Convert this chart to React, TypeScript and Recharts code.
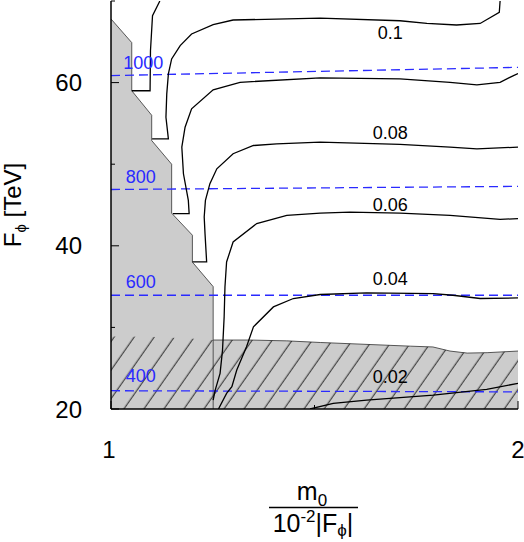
import { ComposedChart, Line, Area, XAxis, YAxis, ReferenceDot } from "recharts";

const W = 524;
const H = 542;
const FONT = "'Liberation Sans', Arial, sans-serif";
const BLUE = "#2a2aff";

// axis ticks
const xTicks = [1, 1.5, 2];
const yTicks = [20, 30, 40, 50, 60, 70];

// excluded region on the left (grey staircase)
const excludedX = [1.0, 1.051, 1.051, 1.1, 1.1, 1.149, 1.149, 1.2, 1.2, 1.251, 1.251];
const excludedY = [67.8, 64.9, 59.0, 56.0, 52.9, 50.0, 44.0, 41.3, 38.0, 35.0, 20];

// hatched band at the bottom (upper edge)
const hatchX = [1.0, 1.096, 1.194, 1.251, 1.342, 1.432, 1.514, 1.661, 1.735, 1.791, 1.833, 1.875, 1.924, 2.0];
const hatchY = [28.9, 28.85, 28.65, 28.45, 28.45, 28.35, 28.15, 27.85, 27.7, 27.6, 27.1, 26.85, 26.9, 27.1];

// black contours
const contourA_X = [1.051, 1.096, 1.097, 1.102, 1.12];
const contourA_Y = [59.0, 59.0, 63.9, 68.2, 70];

const contourB_X = [1.101, 1.141, 1.135, 1.137, 1.141, 1.149, 1.17, 1.198, 1.251, 1.3, 1.514, 1.71, 1.776, 1.849, 1.907, 1.954, 1.956];
const contourB_Y = [53.1, 53.1, 55.76, 58.62, 61.06, 62.9, 64.53, 65.96, 67.1, 67.67, 67.91, 67.58, 67.25, 67.06, 67.25, 68.6, 70];

const contourC_X = [1.152, 1.192, 1.19, 1.178, 1.174, 1.182, 1.198, 1.251, 1.317, 1.514, 1.71, 1.833, 1.899, 1.956, 1.989, 2.0];
const contourC_Y = [43.94, 43.94, 45.57, 48.83, 52.09, 54.53, 56.78, 59.11, 60.04, 60.58, 60.45, 60.04, 59.72, 60.04, 60.86, 61.1];

const contourD_X = [1.2, 1.235, 1.231, 1.229, 1.232, 1.243, 1.26, 1.3, 1.35, 1.407, 1.514, 1.71, 1.833, 1.899, 2.0];
const contourD_Y = [38.02, 38.02, 41.49, 43.52, 45.57, 47.61, 49.44, 51.28, 52.29, 52.5, 52.7, 52.42, 52.09, 51.89, 52.09];

const contourE_X = [1.251, 1.256, 1.268, 1.274, 1.278, 1.28, 1.284, 1.3, 1.358, 1.432, 1.514, 1.587, 1.71, 1.833, 1.956, 2.0];
const contourE_Y = [21.1, 22.32, 24.37, 27.22, 31.29, 34.96, 38.02, 40.47, 42.72, 43.73, 44.01, 44.13, 44.01, 43.73, 43.24, 43.33];

const contourF_X = [1.264, 1.284, 1.297, 1.309, 1.333, 1.35, 1.399, 1.448, 1.514, 1.628, 1.792, 1.84, 1.907, 2.0];
const contourF_Y = [20, 21.92, 22.73, 24.77, 27.62, 30.07, 32.51, 33.54, 34.03, 34.23, 34.15, 33.94, 33.54, 33.61];

const contourG_X = [1.489, 1.546, 1.628, 1.792, 1.923, 2.0];
const contourG_Y = [20, 20.7, 21.1, 21.71, 22.41, 23.14];

// blue dashed lines
const blueX = [1, 2];
const blue1000 = [60.86, 61.87];
const blue800 = [46.9, 47.28];
const blue600 = [33.94, 33.94];
const blue400 = [22.24, 22.1];

const blueNames = ["1000", "800", "600", "400"];
const blueLabelX = [1.079, 1.073, 1.073, 1.073];
const blueLabelY = [62.48, 48.42, 35.57, 24.1];

const contourNames = ["0.1", "0.08", "0.06", "0.04", "0.02"];
const contourLabelX = 1.686;
const contourLabelY = [66.18, 53.92, 45.08, 35.93, 23.95];

const pts = (xs: number[], ys: number[]) => xs.map((x, i) => ({ x, y: ys[i] }));

const contours = [
  pts(contourA_X, contourA_Y),
  pts(contourB_X, contourB_Y),
  pts(contourC_X, contourC_Y),
  pts(contourD_X, contourD_Y),
  pts(contourE_X, contourE_Y),
  pts(contourF_X, contourF_Y),
  pts(contourG_X, contourG_Y),
];
const blues = [blue1000, blue800, blue600, blue400].map((ys) => pts(blueX, ys));

const LeftTick = (p: any) => {
  const v = p.payload.value;
  const major = v % 20 === 0;
  return (
    <g>
      <line x1={p.x} x2={p.x + (major ? 8 : 4)} y1={p.y} y2={p.y} stroke="#000" />
      {major && v < 70 && (
        <text x={p.x - 29} y={p.y} textAnchor="end" dominantBaseline="central" fontSize={24} fontFamily={FONT} fill="#000">
          {v}
        </text>
      )}
    </g>
  );
};

const RightTick = (p: any) => {
  const v = p.payload.value;
  const major = v % 20 === 0;
  return <line x1={p.x} x2={p.x - (major ? 8 : 4)} y1={p.y} y2={p.y} stroke="#000" />;
};

const BottomTick = (p: any) => {
  const v = p.payload.value;
  const major = v === 1 || v === 2;
  const nudge = v === 1 ? -2 : 0;
  return (
    <g>
      <line x1={p.x} x2={p.x} y1={p.y} y2={p.y - (major ? 8 : 4)} stroke="#000" />
      {major && (
        <text x={p.x + nudge} y={p.y + 40} textAnchor="middle" dominantBaseline="central" fontSize={24} fontFamily={FONT} fill="#000">
          {v}
        </text>
      )}
    </g>
  );
};

const TopTick = (p: any) => {
  const v = p.payload.value;
  const major = v === 1 || v === 2;
  return <line x1={p.x} x2={p.x} y1={p.y} y2={p.y + (major ? 8 : 4)} stroke="#000" />;
};

const frame = { stroke: "#000", strokeWidth: 1.5 };

export default function App() {
  return (
    <div style={{ position: "absolute", left: 0, top: 0, width: W, height: H, background: "#fff" }}>
      <ComposedChart width={W} height={H} margin={{ top: 1, right: 6, bottom: 0, left: 0 }}>
        <defs>
          <pattern id="hatch" patternUnits="userSpaceOnUse" width={16.4} height={16.4} patternTransform="rotate(35)">
            <line x1={8} y1={-1} x2={8} y2={17.4} stroke="#000" strokeWidth={0.8} />
          </pattern>
        </defs>
        <XAxis dataKey="x" type="number" domain={[1, 2]} ticks={xTicks} interval={0} height={133}
          tickSize={0} tickMargin={0} tick={BottomTick} axisLine={frame} allowDataOverflow />
        <XAxis xAxisId="top" orientation="top" dataKey="x" type="number" domain={[1, 2]} ticks={xTicks}
          interval={0} height={0} tickSize={0} tickMargin={0} tick={TopTick} axisLine={frame} allowDataOverflow />
        <YAxis type="number" domain={[20, 70]} ticks={yTicks} interval={0} width={111}
          tickSize={0} tickMargin={0} tick={LeftTick} axisLine={frame} allowDataOverflow />
        <YAxis yAxisId="right" orientation="right" type="number" domain={[20, 70]} ticks={yTicks} interval={0}
          width={0} tickSize={0} tickMargin={0} tick={RightTick} axisLine={frame} allowDataOverflow />

        <Area data={pts(hatchX, hatchY)} dataKey="y" type="linear" fill="#cccccc" fillOpacity={1}
          stroke="#555" strokeWidth={1} isAnimationActive={false} />
        <Area data={pts(excludedX, excludedY)} dataKey="y" type="linear" fill="#cccccc" fillOpacity={1}
          stroke="#333" strokeWidth={0.8} isAnimationActive={false} />
        <Area data={pts(hatchX, hatchY)} dataKey="y" type="linear" fill="url(#hatch)" fillOpacity={1}
          stroke="none" isAnimationActive={false} />

        {blues.map((d, i) => (
          <Line key={"b" + i} data={d} dataKey="y" type="linear" stroke={BLUE} strokeWidth={1.3}
            strokeDasharray="9 5" dot={false} isAnimationActive={false} />
        ))}
        {contours.map((d, i) => (
          <Line key={"c" + i} data={d} dataKey="y" type="linear" stroke="#000" strokeWidth={1.3}
            dot={false} isAnimationActive={false} />
        ))}

        {blueNames.map((n, i) => (
          <ReferenceDot key={"bl" + i} x={blueLabelX[i]} y={blueLabelY[i]} r={0} stroke="none" fill="none"
            label={{ value: n, position: "center", fill: BLUE, fontSize: 18, fontFamily: FONT }} />
        ))}
        {contourNames.map((n, i) => (
          <ReferenceDot key={"cl" + i} x={contourLabelX} y={contourLabelY[i]} r={0} stroke="none" fill="none"
            label={{ value: n, position: "center", fill: "#000", fontSize: 18, fontFamily: FONT }} />
        ))}
      </ComposedChart>

      <svg width={W} height={H} style={{ position: "absolute", left: 0, top: 0, pointerEvents: "none" }}
        fontFamily={FONT} fill="#000">
        <text transform="translate(21,205) rotate(-90)" textAnchor="middle" fontSize={24}>
          F<tspan fontSize={15} dy={5}>ϕ</tspan>
          <tspan dy={-5}> [TeV]</tspan>
        </text>
        <text x={312} y={500} textAnchor="middle" fontSize={25}>
          m<tspan fontSize={17} dy={6}>0</tspan>
        </text>
        <line x1={269} x2={358} y1={507.5} y2={507.5} stroke="#000" strokeWidth={1.5} />
        <text x={313} y={532} textAnchor="middle" fontSize={25}>
          10<tspan fontSize={17} dy={-10}>-2</tspan>
          <tspan dy={10}>|F</tspan>
          <tspan fontSize={17} dy={4}>ϕ</tspan>
          <tspan dy={-4}>|</tspan>
        </text>
      </svg>
    </div>
  );
}
